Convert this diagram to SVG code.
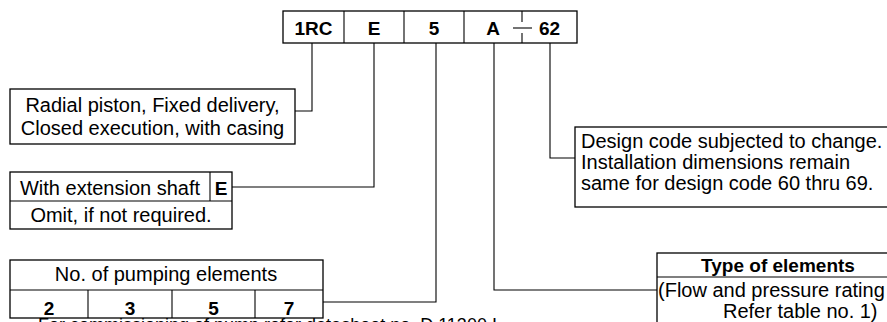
<svg xmlns="http://www.w3.org/2000/svg" width="887" height="322" viewBox="0 0 887 322">
<style>
.box{fill:#fff;stroke:#000;stroke-width:1.3}
.ln{fill:none;stroke:#000;stroke-width:1.1}
.t{font-family:"Liberation Sans",Arial,sans-serif;font-size:20px;fill:#000}
.b{font-family:"Liberation Sans",Arial,sans-serif;font-size:19px;font-weight:bold;fill:#000}
.c{text-anchor:middle}
</style>
<rect width="887" height="322" fill="#fff"/>
<g id="connectors">
<polyline class="ln" points="312,43 312,111 295,111"/>
<polyline class="ln" points="374,43 374,187 232,187"/>
<polyline class="ln" points="436,43 436,302 323,302"/>
<polyline class="ln" points="494,43 494,290 657,290"/>
<polyline class="ln" points="550,43 550,158 575,158"/>
</g>
<g id="code">
<rect class="box" x="283" y="11" width="294" height="32"/>
<line class="ln" x1="344" y1="11" x2="344" y2="43"/>
<line class="ln" x1="404" y1="11" x2="404" y2="43"/>
<line class="ln" x1="464" y1="11" x2="464" y2="43"/>
<line class="ln" x1="522" y1="11" x2="522" y2="22"/>
<line class="ln" x1="522" y1="33" x2="522" y2="43"/>
<line class="ln" x1="513" y1="28" x2="532" y2="28"/>
<text class="b c" x="313.5" y="35">1RC</text>
<text class="b c" x="374" y="35">E</text>
<text class="b c" x="434" y="35">5</text>
<text class="b c" x="493" y="35">A</text>
<text class="b c" x="549.5" y="35">62</text>
</g>
<g id="radial">
<rect class="box" x="10" y="89" width="285" height="55"/>
<text class="t c" x="152.5" y="112">Radial piston, Fixed delivery,</text>
<text class="t c" x="152.5" y="135">Closed execution, with casing</text>
</g>
<g id="shaft">
<rect class="box" x="10" y="172" width="222" height="57"/>
<line class="ln" x1="10" y1="201" x2="232" y2="201"/>
<line class="ln" x1="210" y1="172" x2="210" y2="201"/>
<text class="t c" x="110" y="195">With extension shaft</text>
<text class="b c" x="221" y="195">E</text>
<text class="t c" x="121" y="222">Omit, if not required.</text>
</g>
<g id="elements">
<rect class="box" x="10" y="260" width="313" height="58"/>
<line class="ln" x1="10" y1="290" x2="323" y2="290"/>
<line class="ln" x1="88" y1="290" x2="88" y2="318"/>
<line class="ln" x1="172" y1="290" x2="172" y2="318"/>
<line class="ln" x1="255" y1="290" x2="255" y2="318"/>
<text class="t c" x="166" y="281">No. of pumping elements</text>
<text class="b c" x="49" y="315">2</text>
<text class="b c" x="130" y="315">3</text>
<text class="b c" x="213.5" y="315">5</text>
<text class="b c" x="289" y="315">7</text>
</g>
<g id="design">
<rect class="box" x="575" y="127" width="330" height="80"/>
<text class="t" x="581" y="148">Design code subjected to change.</text>
<text class="t" x="581" y="169">Installation dimensions remain</text>
<text class="t" x="581" y="190">same for design code 60 thru 69.</text>
</g>
<g id="type">
<rect class="box" x="657" y="253" width="250" height="90"/>
<line class="ln" x1="657" y1="277" x2="907" y2="277"/>
<text class="b c" x="778" y="272">Type of elements</text>
<text class="t" x="658" y="297">(Flow and pressure rating</text>
<text class="t" x="723" y="318">Refer table no. 1)</text>
</g>
<g id="note">
<text class="t" style="font-size:18px" x="38" y="331">For commissioning of pump refer datasheet no. D 11300 I</text>
</g>
</svg>
